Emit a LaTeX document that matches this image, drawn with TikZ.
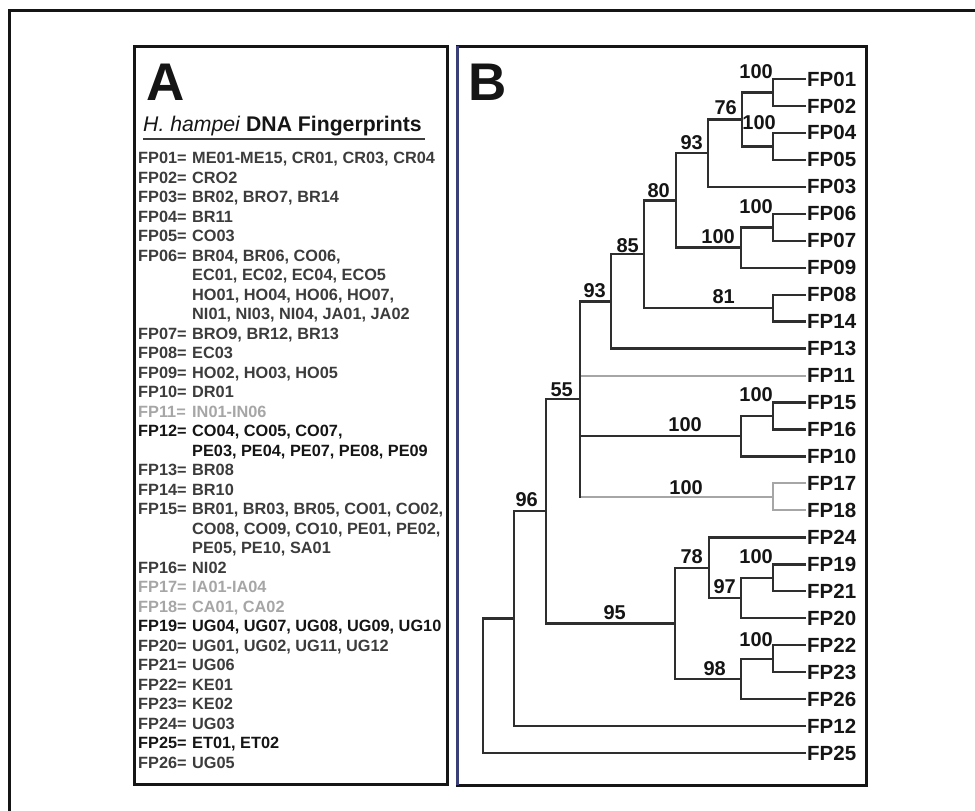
\documentclass[tikz,border=0pt]{standalone}
\usepackage{fontspec}
\setmainfont{Liberation Sans}
\usetikzlibrary{calc}
\definecolor{dk}{HTML}{3C3C3C}
\definecolor{lt}{HTML}{A6A6A6}
\definecolor{bk}{HTML}{151515}
\definecolor{tree}{HTML}{2E2E2E}
\definecolor{navy}{HTML}{3A3F78}
\tikzset{
 frame/.style={line width=3pt, draw=bk},
 keyA/.style={anchor=base west, inner sep=0pt, font=\fontsize{16.3}{16.3}\selectfont\bfseries},
 leaf/.style={anchor=west, inner sep=2pt, font=\fontsize{20.5}{20.5}\selectfont\bfseries, text=bk},
 boot/.style={anchor=east, inner sep=0pt, font=\fontsize{20}{20}\selectfont\bfseries, text=bk},
 br/.style={line width=2.4pt, draw=tree, line cap=rect},
 brl/.style={line width=2pt, draw=lt, line cap=rect},
 big/.style={anchor=base west, inner sep=0pt, font=\fontsize{53}{53}\selectfont\bfseries, text=bk},
}
\begin{document}
\begin{tikzpicture}[x=1pt,y=-1pt]
\useasboundingbox (0,0) rectangle (975,811);
% outer frame
\draw[line width=3pt, bk] (9.5,811) -- (9.5,10.5) -- (975,10.5);
% panels
\draw[frame] (134,46) rectangle (447,784);
\draw[frame] (457,46) rectangle (866,785);
\draw[line width=3pt, navy] (457,46) -- (457,785);
% panel A
\node[big] (labA) at (146,100) {A};
\node[anchor=base west, inner sep=0pt, font=\fontsize{21.2}{21.2}\selectfont, text=bk] (title) at (143,131) {\textit{H. hampei} \textbf{DNA Fingerprints}};
\draw[line width=2pt, dk] (143,139) -- (425,139);
% list
\node[keyA, text=dk] (k01) at (138,163.7) {FP01=}; \node[keyA, text=dk] (v01) at (192,163.7) {ME01-ME15, CR01, CR03, CR04};
\node[keyA, text=dk] (k02) at (138,183.2) {FP02=}; \node[keyA, text=dk] (v02) at (192,183.2) {CRO2};
\node[keyA, text=dk] (k03) at (138,202.7) {FP03=}; \node[keyA, text=dk] (v03) at (192,202.7) {BR02, BRO7, BR14};
\node[keyA, text=dk] (k04) at (138,222.2) {FP04=}; \node[keyA, text=dk] (v04) at (192,222.2) {BR11};
\node[keyA, text=dk] (k05) at (138,241.7) {FP05=}; \node[keyA, text=dk] (v05) at (192,241.7) {CO03};
\node[keyA, text=dk] (k06) at (138,261.2) {FP06=}; \node[keyA, text=dk] (v06a) at (192,261.2) {BR04, BR06, CO06,};
\node[keyA, text=dk] (v06b) at (192,280.7) {EC01, EC02, EC04, ECO5};
\node[keyA, text=dk] (v06c) at (192,300.2) {HO01, HO04, HO06, HO07,};
\node[keyA, text=dk] (v06d) at (192,319.7) {NI01, NI03, NI04, JA01, JA02};
\node[keyA, text=dk] (k07) at (138,339.2) {FP07=}; \node[keyA, text=dk] (v07) at (192,339.2) {BRO9, BR12, BR13};
\node[keyA, text=dk] (k08) at (138,358.7) {FP08=}; \node[keyA, text=dk] (v08) at (192,358.7) {EC03};
\node[keyA, text=dk] (k09) at (138,378.2) {FP09=}; \node[keyA, text=dk] (v09) at (192,378.2) {HO02, HO03, HO05};
\node[keyA, text=dk] (k10) at (138,397.7) {FP10=}; \node[keyA, text=dk] (v10) at (192,397.7) {DR01};
\node[keyA, text=lt] (k11) at (138,417.2) {FP11=}; \node[keyA, text=lt] (v11) at (192,417.2) {IN01-IN06};
\node[keyA, text=bk] (k12) at (138,436.7) {FP12=}; \node[keyA, text=bk] (v12a) at (192,436.7) {CO04, CO05, CO07,};
\node[keyA, text=bk] (v12b) at (192,456.2) {PE03, PE04, PE07, PE08, PE09};
\node[keyA, text=dk] (k13) at (138,475.7) {FP13=}; \node[keyA, text=dk] (v13) at (192,475.7) {BR08};
\node[keyA, text=dk] (k14) at (138,495.2) {FP14=}; \node[keyA, text=dk] (v14) at (192,495.2) {BR10};
\node[keyA, text=dk] (k15) at (138,514.7) {FP15=}; \node[keyA, text=dk] (v15a) at (192,514.7) {BR01, BR03, BR05, CO01, CO02,};
\node[keyA, text=dk] (v15b) at (192,534.2) {CO08, CO09, CO10, PE01, PE02,};
\node[keyA, text=dk] (v15c) at (192,553.7) {PE05, PE10, SA01};
\node[keyA, text=dk] (k16) at (138,573.2) {FP16=}; \node[keyA, text=dk] (v16) at (192,573.2) {NI02};
\node[keyA, text=lt] (k17) at (138,592.7) {FP17=}; \node[keyA, text=lt] (v17) at (192,592.7) {IA01-IA04};
\node[keyA, text=lt] (k18) at (138,612.2) {FP18=}; \node[keyA, text=lt] (v18) at (192,612.2) {CA01, CA02};
\node[keyA, text=bk] (k19) at (138,631.7) {FP19=}; \node[keyA, text=bk] (v19) at (192,631.7) {UG04, UG07, UG08, UG09, UG10};
\node[keyA, text=dk] (k20) at (138,651.2) {FP20=}; \node[keyA, text=dk] (v20) at (192,651.2) {UG01, UG02, UG11, UG12};
\node[keyA, text=dk] (k21) at (138,670.7) {FP21=}; \node[keyA, text=dk] (v21) at (192,670.7) {UG06};
\node[keyA, text=dk] (k22) at (138,690.2) {FP22=}; \node[keyA, text=dk] (v22) at (192,690.2) {KE01};
\node[keyA, text=dk] (k23) at (138,709.7) {FP23=}; \node[keyA, text=dk] (v23) at (192,709.7) {KE02};
\node[keyA, text=dk] (k24) at (138,729.2) {FP24=}; \node[keyA, text=dk] (v24) at (192,729.2) {UG03};
\node[keyA, text=bk] (k25) at (138,748.7) {FP25=}; \node[keyA, text=bk] (v25) at (192,748.7) {ET01, ET02};
\node[keyA, text=dk] (k26) at (138,768.2) {FP26=}; \node[keyA, text=dk] (v26) at (192,768.2) {UG05};
% panel B
\node[big] (labB) at (468,100) {B};
% leaves
\node[leaf] (FP01) at (805,79) {FP01};
\node[leaf] (FP02) at (805,106) {FP02};
\node[leaf] (FP04) at (805,132.9) {FP04};
\node[leaf] (FP05) at (805,159.9) {FP05};
\node[leaf] (FP03) at (805,186.8) {FP03};
\node[leaf] (FP06) at (805,213.8) {FP06};
\node[leaf] (FP07) at (805,240.8) {FP07};
\node[leaf] (FP09) at (805,267.7) {FP09};
\node[leaf] (FP08) at (805,294.7) {FP08};
\node[leaf] (FP14) at (805,321.6) {FP14};
\node[leaf] (FP13) at (805,348.6) {FP13};
\node[leaf] (FP11) at (805,375.6) {FP11};
\node[leaf] (FP15) at (805,402.5) {FP15};
\node[leaf] (FP16) at (805,429.5) {FP16};
\node[leaf] (FP10) at (805,456.4) {FP10};
\node[leaf] (FP17) at (805,483.4) {FP17};
\node[leaf] (FP18) at (805,510.4) {FP18};
\node[leaf] (FP24) at (805,537.3) {FP24};
\node[leaf] (FP19) at (805,564.3) {FP19};
\node[leaf] (FP21) at (805,591.2) {FP21};
\node[leaf] (FP20) at (805,618.2) {FP20};
\node[leaf] (FP22) at (805,645.2) {FP22};
\node[leaf] (FP23) at (805,672.1) {FP23};
\node[leaf] (FP26) at (805,699.1) {FP26};
\node[leaf] (FP12) at (805,726) {FP12};
\node[leaf] (FP25) at (805,753) {FP25};
% internal nodes
\coordinate (a) at (773,92.5);
\coordinate (b) at (773,146.4);
\coordinate (n76) at (742,119.5);
\coordinate (n93a) at (708,153.1);
\coordinate (c) at (773,227.3);
\coordinate (d) at (741,247.5);
\coordinate (n80) at (676,200.3);
\coordinate (e) at (773,308.2);
\coordinate (n85) at (644,254.2);
\coordinate (n93b) at (611,301.4);
\coordinate (f) at (773,416);
\coordinate (g) at (741,436.2);
\coordinate (h) at (773,496.9);
\coordinate (n55) at (580,399.1);
\coordinate (i) at (773,577.8);
\coordinate (n97) at (741,598);
\coordinate (n78) at (709,567.7);
\coordinate (j) at (773,658.7);
\coordinate (n98) at (741,678.9);
\coordinate (n95) at (675,623.3);
\coordinate (n96) at (546,511.2);
\coordinate (k) at (514,618.6);
\coordinate (root) at (483,685.8);
% light branches
\draw[brl] (n55 |- h) -- (h);
\draw[brl] (h) |- (FP17.west);
\draw[brl] (h) |- (FP18.west);
\draw[brl] (n55 |- FP11.west) -- (FP11.west);
% dark branches
\draw[br] (a) |- (FP01.west) (a) |- (FP02.west);
\draw[br] (b) |- (FP04.west) (b) |- (FP05.west);
\draw[br] (n76) |- (a) (n76) |- (b);
\draw[br] (n93a) |- (n76) (n93a) |- (FP03.west);
\draw[br] (c) |- (FP06.west) (c) |- (FP07.west);
\draw[br] (d) |- (c) (d) |- (FP09.west);
\draw[br] (n80) |- (n93a) (n80) |- (d);
\draw[br] (e) |- (FP08.west) (e) |- (FP14.west);
\draw[br] (n85) |- (n80) (n85) |- (e);
\draw[br] (n93b) |- (n85) (n93b) |- (FP13.west);
\draw[br] (f) |- (FP15.west) (f) |- (FP16.west);
\draw[br] (g) |- (f) (g) |- (FP10.west);
\draw[br] (n55) |- (n93b) (n55) |- (g) (n55 |- g) -- (n55 |- h);
\draw[br] (i) |- (FP19.west) (i) |- (FP21.west);
\draw[br] (n97) |- (i) (n97) |- (FP20.west);
\draw[br] (n78) |- (FP24.west) (n78) |- (n97);
\draw[br] (j) |- (FP22.west) (j) |- (FP23.west);
\draw[br] (n98) |- (j) (n98) |- (FP26.west);
\draw[br] (n95) |- (n78) (n95) |- (n98);
\draw[br] (n96) |- (n55) (n96) |- (n95);
\draw[br] (k) |- (n96) (k) |- (FP12.west);
\draw[br] (root) |- (k) (root) |- (FP25.west);
% bootstrap values
\node[boot] (ba) at (773,72) {100};
\node[boot] (b76) at (737,108) {76};
\node[boot] (bb) at (776,123) {100};
\node[boot] (b93a) at (703,143) {93};
\node[boot] (b80) at (670,191) {80};
\node[boot] (bc) at (773,207) {100};
\node[boot] (bd) at (735,237) {100};
\node[boot] (b85) at (639,246) {85};
\node[boot] (b81) at (735,297) {81};
\node[boot] (b93b) at (606,291) {93};
\node[boot] (b55) at (573,390) {55};
\node[boot] (bf) at (773,395) {100};
\node[boot] (bg) at (702,425) {100};
\node[boot] (bh) at (703,488) {100};
\node[boot] (b96) at (538,500) {96};
\node[boot] (b78) at (703,557) {78};
\node[boot] (bi) at (773,557) {100};
\node[boot] (b97) at (736,587) {97};
\node[boot] (b95) at (626,613) {95};
\node[boot] (bj) at (773,640) {100};
\node[boot] (b98) at (726,669) {98};
\end{tikzpicture}
\end{document}
